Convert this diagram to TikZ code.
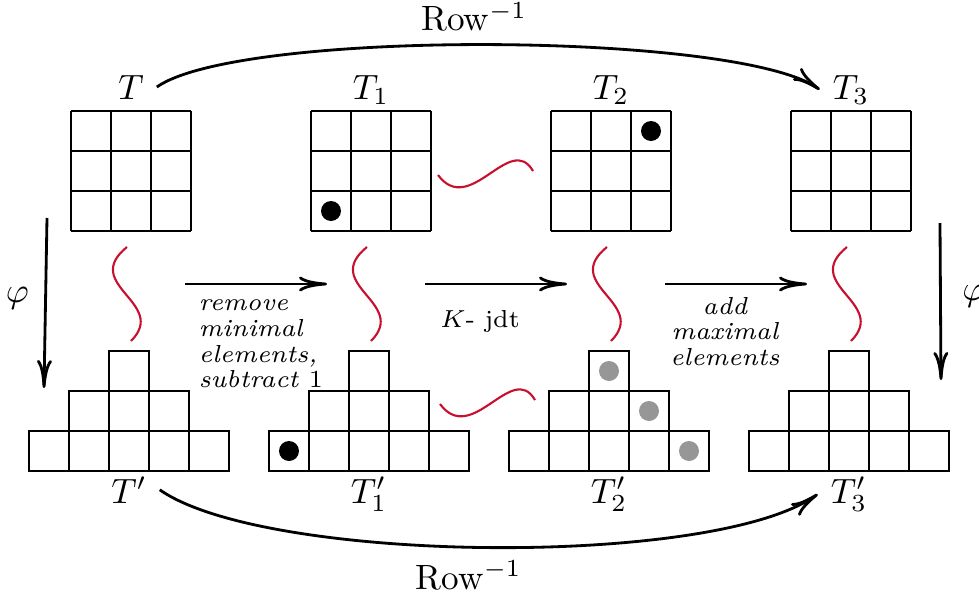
\documentclass[tikz,border=0pt]{standalone}
\usetikzlibrary{arrows.meta,calc}
\definecolor{wavered}{RGB}{200,16,46}
\definecolor{dotgray}{RGB}{150,150,150}
\begin{document}
\begin{tikzpicture}[x=0.4cm, y=0.4cm, thick,
  arr/.style = {-{To[length=2.8mm,width=1.5mm]}},
  lab/.style = {anchor=base},
  wave/.style = {draw=wavered, semithick},
  txt/.style = {font={\scriptsize\itshape\baselineskip=7.3pt}, inner sep=1pt}]
\useasboundingbox (-1.775,-9.025) rectangle (22.7,5.775);
\foreach \i in {0,...,3} {
  \draw[step=0.4cm] (6*\i,0) grid (6*\i+3,3);
  \begin{scope}[shift={(6*\i-0.05,0)}]
    \foreach \c in {-1,...,3} \draw (\c,-6) rectangle ++(1,1);
    \foreach \c in {0,1,2} \draw (\c,-5) rectangle ++(1,1);
    \draw (1,-4) rectangle ++(1,1);
  \end{scope}
  \coordinate (w\i) at (6*\i+1.4,-0.4);
  \coordinate (v\i) at (6*\i+1.5,-2.75);
  \draw[wave] (w\i) .. controls +(-1.175,-0.95) and +(0.95,0.95) .. (v\i);
}
\fill (6.5,0.5) circle (1mm);
\fill (14.5,2.5) circle (1mm);
\fill (5.45,-5.5) circle (1mm);
\fill[dotgray] (13.45,-3.5) circle (1mm);
\fill[dotgray] (14.45,-4.5) circle (1mm);
\fill[dotgray] (15.45,-5.5) circle (1mm);
\coordinate (ha) at (9.175,1.4);
\coordinate (hb) at (11.55,1.5);
\coordinate (la) at (9.225,-4.325);
\coordinate (lb) at (11.6,-4.225);
\draw[wave] (ha) .. controls +(0.8,-1.075) and +(-0.575,0.9875) .. (hb);
\draw[wave] (la) .. controls +(0.8,-1.075) and +(-0.575,0.9875) .. (lb);
\foreach \i/\lab in {0/T,1/T_1,2/T_2,3/T_3}
  \node[lab] (t\i) at (6*\i+1.5,3.3) {$\lab$};
\foreach \i/\lab in {0/T',1/T_1',2/T_2',3/T_3'}
  \node[lab] (b\i) at (6*\i+1.45,-6.8) {$\lab$};
\draw[arr] (t0.east) to[out=35,in=145,looseness=0.39] node[above=0pt, xshift=-1.4mm] {Row$^{-1}$} (t3.west);
\draw[arr] (b0.east) to[out=-35,in=-145,looseness=0.5] node[below, xshift=-2mm] {Row$^{-1}$} (b3.west);
\coordinate (p0) at (-0.6,0.325);
\coordinate (q0) at (-0.675,-3.925);
\coordinate (p3) at (21.725,0.2);
\coordinate (q3) at (21.75,-3.725);
\draw[arr] (p0) -- node[left=1pt, pos=0.47] {$\varphi$} (q0);
\draw[arr] (p3) -- node[right=2.5pt, pos=0.47] {$\varphi$} (q3);
\foreach \i in {0,1,2} {
  \coordinate (h\i) at (6*\i+2.85,-1.325);
  \coordinate (k\i) at (6*\i+6.4,-1.325);
  \draw[arr] (h\i) -- (k\i);
}
\node[txt, anchor=north west, align=left] (rm) at ([xshift=0.9mm, yshift=-1.1mm]h0) {remove\\minimal\\elements,\\subtract $1$};
\node[txt, font=\scriptsize, anchor=north] (kj) at ([xshift=-1.6mm, yshift=-2.2mm]$(h1)!0.5!(k1)$) {$K$- jdt};
\node[txt, anchor=north, align=center] (am) at ([xshift=-1.1mm, yshift=-0.8mm]$(h2)!0.5!(k2)$) {add\\maximal\\elements};
\end{tikzpicture}
\end{document}
